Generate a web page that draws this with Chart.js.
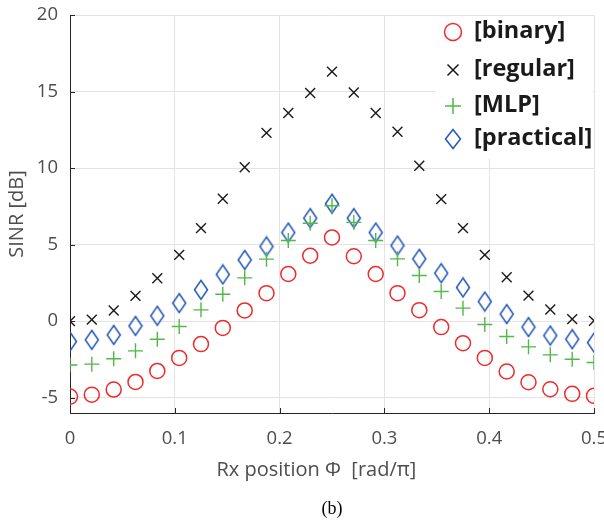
<!DOCTYPE html>
<html>
<head>
<meta charset="utf-8">
<script src="https://cdn.jsdelivr.net/npm/chart.js@4.4.1/dist/chart.umd.min.js"></script>
<style>
  html, body { margin: 0; padding: 0; background: #fff; }
  #sinrChart { display: block; }
</style>
</head>
<body>
<canvas id="sinrChart" width="604" height="521"></canvas>
<script>
// Rx position Phi [rad/pi]
const rxPosition = [0, 0.0208, 0.0417, 0.0625, 0.0833, 0.1042, 0.125, 0.1458, 0.1667, 0.1875, 0.2083, 0.2292, 0.25,
                    0.2708, 0.2917, 0.3125, 0.3333, 0.3542, 0.375, 0.3958, 0.4167, 0.4375, 0.4583, 0.4792, 0.5];

// SINR [dB] je Verfahren
const sinrBinary = [-4.93, -4.8, -4.47, -3.97, -3.25, -2.4, -1.5, -0.44, 0.7, 1.83, 3.08, 4.27, 5.47,
                    4.24, 3.08, 1.83, 0.72, -0.39, -1.44, -2.4, -3.29, -3.99, -4.45, -4.75, -4.88];
const sinrRegular = [0.0, 0.1, 0.7, 1.65, 2.8, 4.33, 6.08, 8.0, 10.05, 12.3, 13.6, 14.9, 16.3,
                     14.94, 13.6, 12.37, 10.15, 7.97, 6.08, 4.33, 2.87, 1.67, 0.76, 0.13, 0.02];
const sinrMLP = [-2.86, -2.81, -2.46, -1.94, -1.18, -0.35, 0.74, 1.76, 2.83, 4.05, 5.27, 6.4, 7.54,
                 6.45, 5.27, 4.07, 2.98, 1.94, 0.85, -0.22, -1.0, -1.68, -2.2, -2.49, -2.7];
const sinrPractical = [-1.33, -1.22, -0.9, -0.31, 0.35, 1.18, 2.05, 3.05, 4.0, 4.88, 5.79, 6.73, 7.67,
                       6.73, 5.79, 4.94, 4.07, 3.13, 2.2, 1.28, 0.46, -0.39, -0.94, -1.18, -1.4];

const xTicks = [0, 0.1, 0.2, 0.3, 0.4, 0.5];
const yTicks = [-5, 0, 5, 10, 15, 20];

const tickColor = '#4d4d4d';
const gridColor = '#e3e3e3';
const axisColor = '#262626';

// Raute (hoeher als breit) als eigenes Punktsymbol
function makeDiamond(color, w, h) {
    const c = document.createElement('canvas');
    c.width = w;
    c.height = h;
    const g = c.getContext('2d');
    g.strokeStyle = color;
    g.lineWidth = 1.5;
    g.beginPath();
    g.moveTo(w / 2, 1.5);
    g.lineTo(w - 1.5, h / 2);
    g.lineTo(w / 2, h - 1.5);
    g.lineTo(1.5, h / 2);
    g.closePath();
    g.stroke();
    return c;
}
const diamond = makeDiamond('#2257b5', 16, 22);
const diamondLegend = makeDiamond('#2257b5', 18, 22);

function toPoints(values) {
    return rxPosition.map((x, i) => ({ x: x, y: values[i] }));
}

// kleine Ticks nach innen (wie MATLAB)
const innerTicks = {
    id: 'innerTicks',
    afterDatasetsDraw(chart) {
        const ctx = chart.ctx;
        const area = chart.chartArea;
        const xs = chart.scales.x;
        const ys = chart.scales.y;
        ctx.save();
        ctx.strokeStyle = axisColor;
        ctx.lineWidth = 1;
        ctx.beginPath();
        yTicks.forEach(v => {
            const py = Math.round(ys.getPixelForValue(v)) + 0.5;
            ctx.moveTo(area.left, py);
            ctx.lineTo(area.left + 5, py);
        });
        xTicks.forEach(v => {
            const px = Math.round(xs.getPixelForValue(v)) + 0.5;
            ctx.moveTo(px, area.bottom);
            ctx.lineTo(px, area.bottom - 5);
        });
        ctx.stroke();
        ctx.restore();
    }
};

// Legende oben rechts im Plotbereich
const legendRows = [32, 70, 106, 139];
const legendBox = {
    id: 'legendBox',
    afterDraw(chart) {
        const ctx = chart.ctx;
        const area = chart.chartArea;
        ctx.save();
        ctx.fillStyle = '#ffffff';
        ctx.fillRect(436, area.top + 1, area.right - 437, 143);
        chart.data.datasets.forEach((ds, i) => {
            const x = 453;
            const y = legendRows[i];
            ctx.strokeStyle = ds.borderColor;
            ctx.lineWidth = 1.5;
            ctx.beginPath();
            if (ds.pointStyle === 'circle') {
                ctx.arc(x, y, 8.5, 0, Math.PI * 2);
            } else if (ds.pointStyle === 'crossRot') {
                ctx.moveTo(x - 5.5, y - 5.5); ctx.lineTo(x + 5.5, y + 5.5);
                ctx.moveTo(x + 5.5, y - 5.5); ctx.lineTo(x - 5.5, y + 5.5);
            } else if (ds.pointStyle === 'cross') {
                ctx.moveTo(x - 8, y); ctx.lineTo(x + 8, y);
                ctx.moveTo(x, y - 8); ctx.lineTo(x, y + 8);
            } else {
                ctx.drawImage(diamondLegend, x - 9, y - 11);
            }
            ctx.stroke();
            ctx.fillStyle = '#1a1a1a';
            ctx.font = 'bold 23.5px "Open Sans"';
            ctx.textBaseline = 'middle';
            ctx.textAlign = 'left';
            ctx.fillText(ds.label, 474, y - 1);
        });
        ctx.restore();
    }
};

const config = {
    type: 'scatter',
    data: {
        datasets: [
            {
                label: '[binary]',
                data: toPoints(sinrBinary),
                pointStyle: 'circle',
                borderColor: '#ee2a2a',
                backgroundColor: 'rgba(0,0,0,0)',
                pointRadius: 7.5,
                pointBorderWidth: 1.5
            },
            {
                label: '[regular]',
                data: toPoints(sinrRegular),
                pointStyle: 'crossRot',
                borderColor: '#1a1a1a',
                backgroundColor: '#1a1a1a',
                pointRadius: 7,
                pointBorderWidth: 1.4
            },
            {
                label: '[MLP]',
                data: toPoints(sinrMLP),
                pointStyle: 'cross',
                borderColor: '#52b848',
                backgroundColor: '#52b848',
                pointRadius: 7.5,
                pointBorderWidth: 1.4
            },
            {
                label: '[practical]',
                data: toPoints(sinrPractical),
                pointStyle: diamond,
                borderColor: '#2257b5',
                backgroundColor: '#2257b5',
                pointRadius: 8
            }
        ]
    },
    options: {
        responsive: false,
        animation: false,
        devicePixelRatio: 1,
        layout: { padding: { top: 15, right: 10, left: 0, bottom: 0 } },
        plugins: {
            legend: { display: false },
            tooltip: { enabled: false },
            title: {
                display: true,
                position: 'bottom',
                fullSize: false,
                text: '(b)',
                color: '#000',
                font: { family: '"Liberation Serif"', size: 18, weight: 'normal', lineHeight: 1.2 },
                padding: { top: 1, bottom: 1 }
            }
        },
        scales: {
            x: {
                type: 'linear',
                min: 0,
                max: 0.5,
                afterBuildTicks: s => { s.ticks = xTicks.map(v => ({ value: v })); },
                afterFit: s => { s.height = 84.4; s.paddingLeft = 0; s.paddingRight = 0; },
                ticks: {
                    color: tickColor,
                    padding: 15,
                    maxRotation: 0,
                    font: { family: '"Open Sans"', size: 18.5, lineHeight: 1.2 },
                    callback: v => String(v)
                },
                grid: {
                    color: c => (c.tick && c.tick.value === 0) ? 'rgba(0,0,0,0)' : gridColor,
                    drawTicks: false
                },
                border: { display: true, color: axisColor, width: 1 },
                title: {
                    display: true,
                    // nachgestellte Leerzeichen schieben den zentrierten Titel etwas nach links
                    text: 'Rx position \u03a6  [rad/\u03c0]\u00a0\u00a0\u00a0\u00a0\u00a0\u00a0',
                    color: tickColor,
                    font: { family: '"Open Sans"', size: 20, lineHeight: 1.2 },
                    padding: { top: 0, bottom: 15.4 }
                }
            },
            y: {
                type: 'linear',
                min: -6,
                max: 20,
                afterBuildTicks: s => { s.ticks = yTicks.map(v => ({ value: v })); },
                afterFit: s => { s.width = 70; s.paddingTop = 0; s.paddingBottom = 0; },
                ticks: {
                    color: tickColor,
                    padding: 12,
                    font: { family: '"Open Sans"', size: 18.5, lineHeight: 1.2 },
                    callback: v => String(v)
                },
                grid: { color: gridColor, drawTicks: false },
                border: { display: true, color: axisColor, width: 1 },
                title: {
                    display: true,
                    text: 'SINR [dB]',
                    color: tickColor,
                    font: { family: '"Open Sans"', size: 20, lineHeight: 1.2 },
                    padding: { top: 5, bottom: 0 }
                }
            }
        }
    },
    plugins: [innerTicks, legendBox]
};

const sinrChart = new Chart(document.getElementById('sinrChart'), config);
</script>
</body>
</html>
